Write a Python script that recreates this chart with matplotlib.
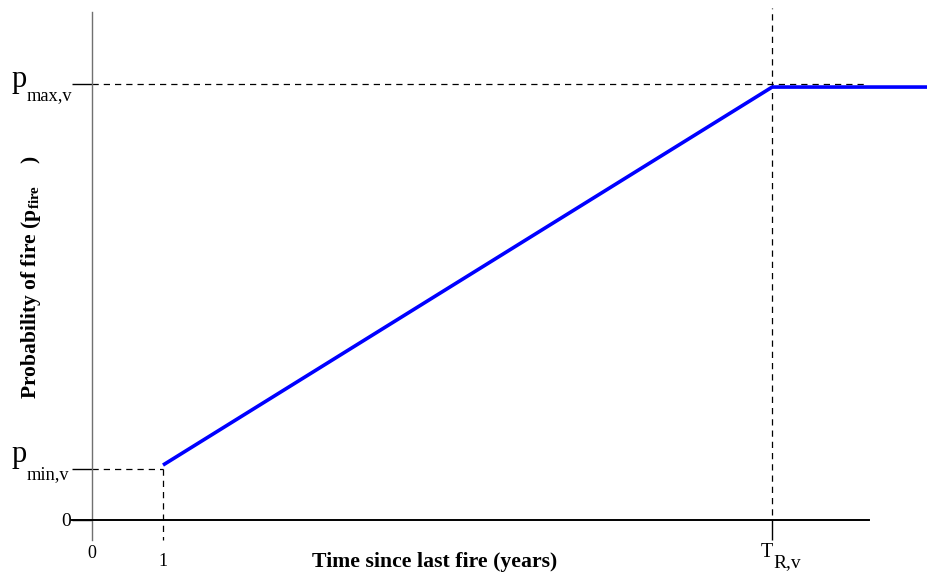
import matplotlib
matplotlib.use("Agg")
import matplotlib.pyplot as plt

plt.rcParams['font.family'] = ['Liberation Serif', 'DejaVu Serif']
plt.rcParams['mathtext.fontset'] = 'custom'
plt.rcParams['mathtext.rm'] = 'Liberation Serif'
plt.rcParams['mathtext.it'] = 'Liberation Serif'
plt.rcParams['mathtext.bf'] = 'Liberation Serif:bold'

# --- data (schematic) ---
T_R = 9.58          # time at which p reaches maximum
p_min = 0.117
p_max = 1.0
curve_x = [1.0, T_R, 12.5]
curve_y = [0.126, 0.993, 0.993]
xtick_vals = [0, 1, T_R]
ytick_vals = [0, p_min, p_max]
ytick_main = ['0', 'p', 'p']
ytick_sub = ['', 'min,v', 'max,v']

fig = plt.figure(figsize=(9.27, 5.77), dpi=100)
ax = fig.add_axes([0, 0, 1, 1])
ax.set_xlim(-92 / 71, (927 - 92) / 71)
ax.set_ylim((520 - 577) / 436, 520 / 436)
ax.patch.set_alpha(0)

def py(p):
    return (520 - p) / 436

def px(p):
    return (p - 92) / 71

# spines
for s in ['top', 'right']:
    ax.spines[s].set_visible(False)
ax.spines['left'].set_position(('data', 0))
ax.spines['bottom'].set_position(('data', 0))
ax.spines['left'].set_bounds(py(540), py(12))
ax.spines['bottom'].set_bounds(px(72), px(869))
ax.spines['left'].set_color('#707070')
ax.spines['left'].set_linewidth(1.0)
ax.spines['bottom'].set_color('black')
ax.spines['bottom'].set_linewidth(1.4)

# y ticks
ax.set_yticks(ytick_vals)
ax.set_yticklabels([ytick_main[0], '', ''])
ax.tick_params(axis='y', direction='out', length=14.4, width=1.0, color='black', pad=1)
ax.get_yticklabels()[0].set_fontsize(14)

# p labels: main letter + lowered subscript
p_offsets = {1: (462, 479), 2: (87, 100)}
for i, (base_p, base_s) in p_offsets.items():
    ax.text(px(27), py(base_p), ytick_main[i], ha='right', va='baseline', fontsize=22)
    ax.text(px(27), py(base_s), ytick_sub[i], ha='left', va='baseline', fontsize=13.2)

# x ticks (labels drawn as text)
ax.set_xticks(xtick_vals)
ax.set_xticklabels(['', '', ''])
ax.tick_params(axis='x', direction='out', length=14.4, width=1.0, color='black')
xt = ax.xaxis.get_major_ticks()
xt[0].tick1line.set_visible(False)
xt[1].tick1line.set_visible(False)

ax.text(0, py(553), '0', ha='center', va='center', fontsize=13)
ax.text(1, py(561), '1', ha='center', va='center', fontsize=13)
ax.text(T_R + px(773) - px(772), py(557), 'T', ha='right', va='baseline', fontsize=14.5)
ax.text(T_R + px(773) - px(772), py(567), 'R,v', ha='left', va='baseline', fontsize=14)

# dashed guides
dash = dict(color='black', lw=0.9, ls=(0, (5, 4)))
ax.plot([0, px(866)], [p_max, p_max], **dash)
ax.plot([0, 1], [p_min, p_min], **dash)
ax.plot([1, 1], [p_min, py(540)], **dash)
ax.plot([T_R, T_R], [py(515), py(8)], **dash)

# curve
ax.plot(curve_x, curve_y, color='#0000ff', lw=2.6, solid_capstyle='butt', zorder=3)

# axis labels
ax.text(px(435), py(567), 'Time since last fire (years)', ha='center', va='baseline',
        fontsize=15.7, fontweight='bold')
ax.text(px(31), py(277),
        r'$\mathbf{Probability\ of\ fire\ (p}_{\mathbf{fire}}\ \ \ \ \mathbf{)}$',
        rotation=90, ha='center', va='center', fontsize=15.5)

fig.savefig('out.png', dpi=100)
